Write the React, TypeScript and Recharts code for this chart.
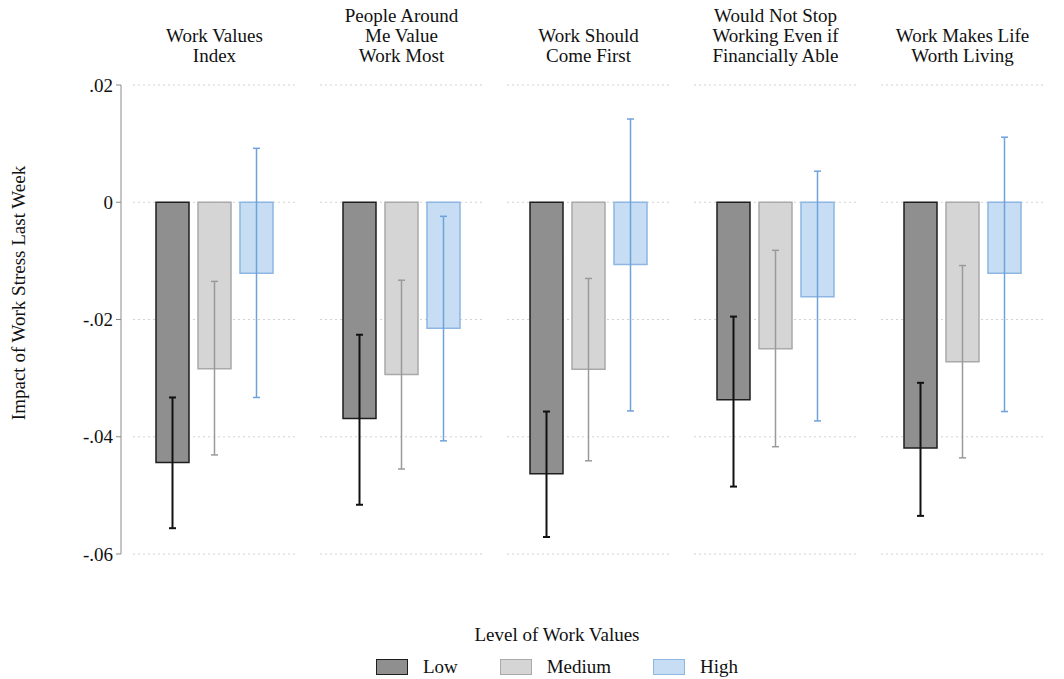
import { BarChart, Bar, XAxis, YAxis, CartesianGrid, ErrorBar, Legend } from "recharts"

// panel titles (one category per panel)
const panels = [
  "Work Values\nIndex",
  "People Around\nMe Value\nWork Most",
  "Work Should\nCome First",
  "Would Not Stop\nWorking Even if\nFinancially Able",
  "Work Makes Life\nWorth Living",
]

const lowValues = [-0.0444, -0.0369, -0.0463, -0.0337, -0.0419]
const lowLower = [-0.0556, -0.0516, -0.0571, -0.0485, -0.0535]
const lowUpper = [-0.0333, -0.0226, -0.0357, -0.0195, -0.0308]

const mediumValues = [-0.0284, -0.0294, -0.0285, -0.025, -0.0272]
const mediumLower = [-0.0431, -0.0455, -0.0441, -0.0417, -0.0436]
const mediumUpper = [-0.0135, -0.0133, -0.013, -0.0082, -0.0108]

const highValues = [-0.0121, -0.0215, -0.0106, -0.0161, -0.0121]
const highLower = [-0.0333, -0.0407, -0.0356, -0.0373, -0.0357]
const highUpper = [0.0092, -0.0024, 0.0142, 0.0053, 0.0111]

const yTicks = [-0.06, -0.04, -0.02, 0, 0.02]

const FONT = "Liberation Serif, Tinos, Times New Roman, Times, serif"

const data = panels.map((p, i) => ({
  panel: p,
  low: lowValues[i],
  lowErr: [lowValues[i] - lowLower[i], lowUpper[i] - lowValues[i]],
  medium: mediumValues[i],
  mediumErr: [mediumValues[i] - mediumLower[i], mediumUpper[i] - mediumValues[i]],
  high: highValues[i],
  highErr: [highValues[i] - highLower[i], highUpper[i] - highValues[i]],
}))

const series = [
  { key: "low", name: "Low", fill: "#8f8f8f", stroke: "#1e1e1e", err: "#111111", errWidth: 2 },
  { key: "medium", name: "Medium", fill: "#d5d5d5", stroke: "#a9a9a9", err: "#9a9a9a", errWidth: 1.5 },
  { key: "high", name: "High", fill: "#c6ddf4", stroke: "#8db6e2", err: "#6fa2da", errWidth: 1.5 },
]

function formatTick(v: number) {
  if (v === 0) return "0"
  const s = Math.abs(v).toFixed(2).replace(/^0/, "")
  return v < 0 ? `-${s}` : s
}

function PanelTitle({ x, payload }: any) {
  const lines = String(payload.value).split("\n")
  const last = 62
  return (
    <text textAnchor="middle" style={{ fontFamily: FONT }} fontSize={19} fill="#111">
      {lines.map((l, i) => (
        <tspan key={i} x={x} y={last - (lines.length - 1 - i) * 20}>
          {l}
        </tspan>
      ))}
    </text>
  )
}

// dotted gridlines broken at panel boundaries
function PanelGrid(props: any) {
  const { x1, x2, y1, key } = props
  const band = (x2 - x1) / panels.length
  return (
    <g key={key}>
      {panels.map((_, i) => (
        <line
          key={i}
          x1={x1 + i * band + 12}
          x2={x1 + (i + 1) * band - 12}
          y1={y1}
          y2={y1}
          stroke="#d2d2d2"
          strokeWidth={1.2}
          strokeDasharray="2 3"
        />
      ))}
    </g>
  )
}

function LegendBox() {
  return (
    <div style={{ fontFamily: FONT, fontSize: 19, color: "#111", paddingLeft: 50, textAlign: "center" }}>
      <div style={{ lineHeight: "22px" }}>Level of Work Values</div>
      <div style={{ display: "flex", justifyContent: "center", alignItems: "center", marginTop: 10 }}>
        {series.map((s, i) => (
          <div key={s.key} style={{ display: "flex", alignItems: "center", marginLeft: i === 0 ? 0 : 42 }}>
            <span
              style={{
                display: "inline-block",
                width: 30,
                height: 14,
                background: s.fill,
                border: `1.5px solid ${s.stroke}`,
                marginRight: 15,
              }}
            />
            <span>{s.name}</span>
          </div>
        ))}
      </div>
    </div>
  )
}

export default function App() {
  return (
    <div style={{ position: "absolute", left: 0, top: 0, width: 1064, height: 679, background: "#fff", fontFamily: FONT }}>
      <BarChart
        width={1064}
        height={679}
        data={data}
        margin={{ top: 0, right: 8, bottom: 125, left: 0 }}
        barSize={33}
        barGap={9}
        style={{ fontFamily: FONT }}
      >
        <CartesianGrid vertical={false} horizontal={PanelGrid as any} />
        <XAxis
          dataKey="panel"
          orientation="top"
          height={85}
          axisLine={false}
          tickLine={false}
          interval={0}
          tick={<PanelTitle />}
        />
        <YAxis
          width={121}
          domain={[-0.06, 0.02]}
          ticks={yTicks}
          tickFormatter={formatTick}
          tick={{ fontFamily: FONT, fontSize: 19, fill: "#111" }}
          tickSize={5}
          tickMargin={3}
          axisLine={{ stroke: "#8a8a8a" }}
          tickLine={{ stroke: "#8a8a8a" }}
          allowDataOverflow
          label={() => (
            <text
              x={18}
              y={293}
              transform="rotate(-90 18 293)"
              textAnchor="middle"
              dominantBaseline="central"
              style={{ fontFamily: FONT }}
              fontSize={19}
              fill="#111"
            >
              Impact of Work Stress Last Week
            </text>
          )}
        />
        <Legend
          layout="horizontal"
          verticalAlign="middle"
          align="center"
          content={<LegendBox />}
          wrapperStyle={{ position: "absolute", left: 0, top: 624, width: 1064 }}
        />
        {series.map((s) => (
          <Bar
            key={s.key}
            dataKey={s.key}
            name={s.name}
            fill={s.fill}
            stroke={s.stroke}
            strokeWidth={1.5}
            isAnimationActive={false}
          >
            <ErrorBar
              dataKey={`${s.key}Err`}
              width={3.5}
              stroke={s.err}
              strokeWidth={s.errWidth}
              direction="y"
            />
          </Bar>
        ))}
      </BarChart>
    </div>
  )
}
